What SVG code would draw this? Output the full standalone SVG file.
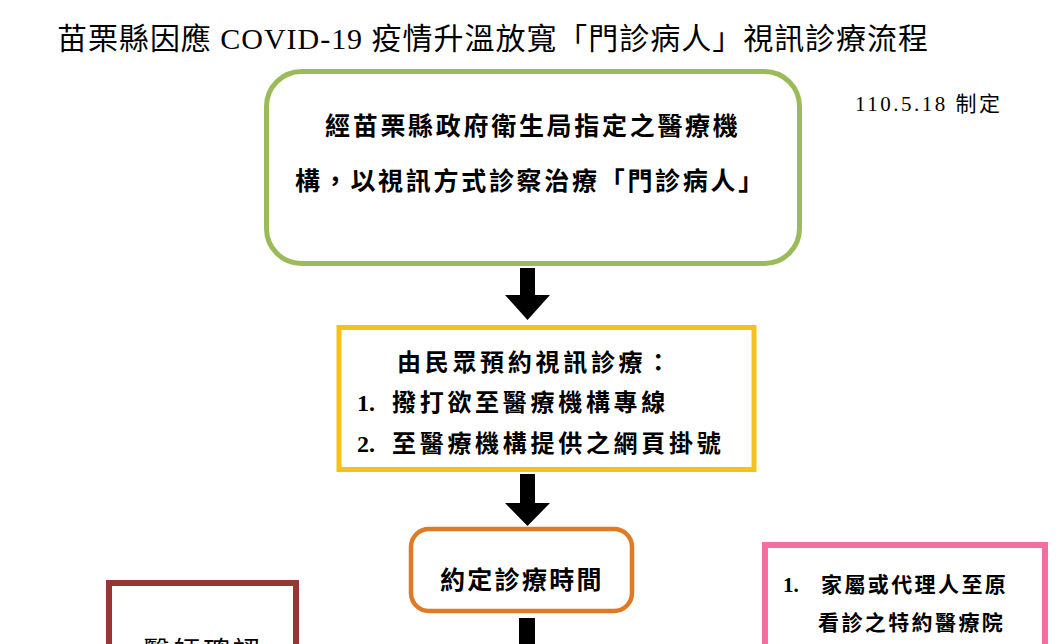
<svg xmlns="http://www.w3.org/2000/svg" width="1058" height="644" viewBox="0 0 1058 644">
<style>
.t{font-family:"Liberation Serif","Noto Sans CJK TC",serif;fill:#000}
.b{font-weight:700}
.box{fill:#fff}
</style>
<rect width="1058" height="644" fill="#fff"/>
<text id="title" class="t" x="57" y="49" font-size="30" textLength="871" lengthAdjust="spacing">苗栗縣因應 COVID-19 疫情升溫放寬「門診病人」視訊診療流程</text>
<text id="date" class="t" x="855" y="111" font-size="21" textLength="145" lengthAdjust="spacing">110.5.18 制定</text>
<g id="connectors" fill="#000">
<polygon points="520,268 535,268 535,295 550,295 527.5,320 505,295 520,295"/>
<polygon points="520,474 535,474 535,503 550,503 527.5,526 505,503 520,503"/>
<rect x="519" y="618" width="16" height="30"/>
</g>
<g id="node-designated">
<rect class="box" x="266.5" y="71.5" width="533" height="192" rx="35" stroke="#9BBB59" stroke-width="5"/>
<text class="t b" x="325" y="135" font-size="25" letter-spacing="2.7">經苗栗縣政府衛生局指定之醫療機</text>
<text class="t b" x="295" y="190" font-size="25" letter-spacing="2.7">構，以視訊方式診察治療「門診病人」</text>
</g>
<g id="node-booking">
<rect class="box" x="339" y="327.5" width="415" height="142" stroke="#F8C11A" stroke-width="5"/>
<text class="t b" x="397" y="371" font-size="24" letter-spacing="3.7">由民眾預約視訊診療：</text>
<text class="t b" font-size="24" y="411"><tspan x="357">1.</tspan><tspan x="392" letter-spacing="3.7">撥打欲至醫療機構專線</tspan></text>
<text class="t b" font-size="24" y="452"><tspan x="357">2.</tspan><tspan x="392" letter-spacing="3.7">至醫療機構提供之網頁掛號</tspan></text>
</g>
<g id="node-schedule">
<rect class="box" x="411" y="529" width="221" height="82" rx="18" stroke="#E07A25" stroke-width="4.5"/>
<text class="t b" x="440" y="589" font-size="25" letter-spacing="2.3">約定診療時間</text>
</g>
<g id="node-doctor">
<rect class="box" x="109" y="583" width="187" height="90" stroke="#953735" stroke-width="6"/>
<text class="t" x="143" y="661" font-size="27" letter-spacing="3">醫師確認</text>
</g>
<g id="node-family">
<rect class="box" x="765" y="545" width="280" height="120" stroke="#F36FA0" stroke-width="6"/>
<text class="t b" font-size="21" y="592"><tspan x="783">1.</tspan><tspan x="821" letter-spacing="2.4">家屬或代理人至原</tspan></text>
<text class="t b" x="818" y="630" font-size="21" letter-spacing="2.4">看診之特約醫療院</text>
</g>
</svg>
